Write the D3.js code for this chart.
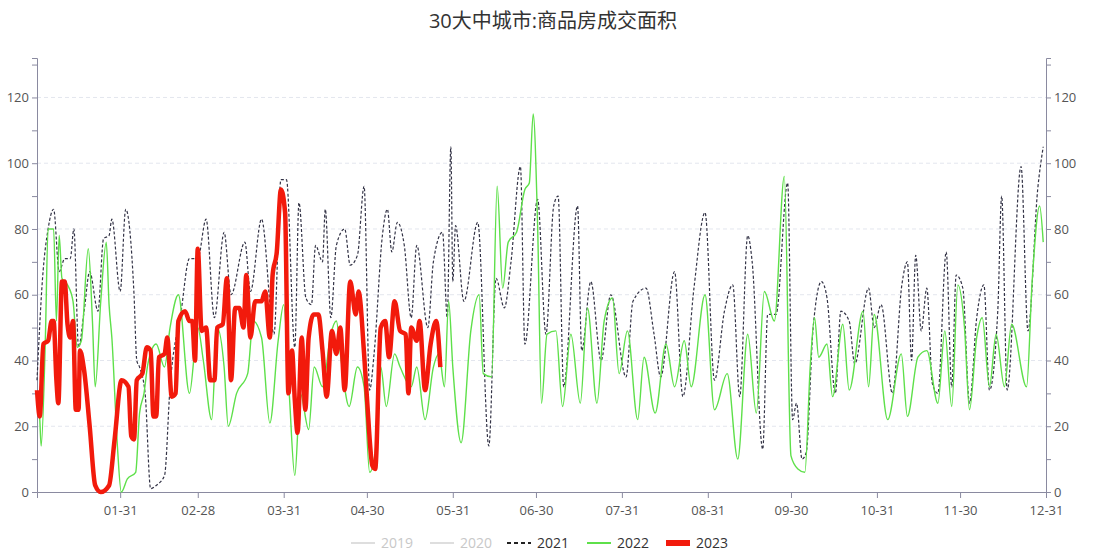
<!DOCTYPE html>
<html>
<head>
<meta charset="utf-8">
<script src="https://cdn.jsdelivr.net/npm/d3@7"></script>
<style>
  body { margin: 0; background: #fff; font-family: "Open Sans", "Noto Sans CJK SC", sans-serif; }
</style>
</head>
<body>
<script>
// [day of year, value]
var s2021 = [[1,34],[3,65],[5,80],[7,86],[9,67],[11,71],[13,71],[14.3,80],[16,44],[18,55],[20,67],[23,55],[25,77],[27,78],[28,83],[31,61],[33,86],[36,60],[37,40],[38,38],[40,30],[42,1],[44,2],[47,5],[49,32],[53,55],[56,71],[59,71],[62,83],[65,53],[68.5,79],[71,60],[76,76],[78,61],[82,83],[86.5,48],[89,95],[91,95],[94,44],[95.5,88],[98,59],[100,57],[101.5,75],[104,70],[105,86],[107,53],[109,75],[112,80],[114,69],[116.6,72],[119,93],[121,31],[122.6,42],[125.6,78],[127.4,86],[129,73],[131,82],[133.5,75],[136,53],[138,75],[142,50],[144,70],[147.3,79],[149,53],[150.3,105],[151,64],[152,81],[155,58],[160,82],[164,14],[166.6,65],[169.6,56],[172,70],[175.4,99],[177,45],[181.6,89],[184.6,48],[187.4,87],[189,90],[191,32],[196,87],[197.5,43],[200.8,64],[204.5,40],[208,60],[213.5,35],[216,58],[220.7,62],[223.6,48],[226,35],[231,67],[234,29],[238,62],[242,85],[245.4,34],[249,55],[252,63],[254.5,29],[257.4,78],[259,70],[262.8,13],[264.6,54],[267.6,54],[271.8,94],[273.6,22],[275,27],[277,10],[278.5,12],[281,50],[284,64],[286,59],[289,30],[291,55],[294,52],[296,39],[301,62],[303,50],[305.5,57],[309.6,30],[313,63],[315,70],[316.5,40],[318,72],[320,49],[322,62],[324,33],[326,30],[329,73],[331,32],[332.6,66],[335,62],[337.4,27],[340,53],[342.6,63],[344.6,31],[347.6,55],[349,90],[351,31],[356,99],[358.5,49],[362,92],[364,105]];

var s2022 = [[1,29],[2,22],[2.5,14],[4,46],[5,80],[7,80],[8,52],[9,78],[10,65],[12,63],[14,58],[15.5,44],[17,46],[19.5,74],[21,52],[22,32],[24,58],[26,76],[27,57],[28,47],[30,14],[31.4,0],[33.6,4],[36.6,6],[38,24],[39.6,30],[41,39],[44,45],[47,38],[49,50],[52,60],[56,30],[59,50],[61,40],[64,22],[66,50],[68.5,38],[70,20],[73,30],[77,36],[79,52],[82,47],[85,21],[88,46],[90,57],[92,30],[94,5],[96,30],[99,19],[101,38],[104,32],[107,48],[109,52],[110.6,41],[113.6,26],[116.6,38],[119,32],[121,6],[123,12],[125,38],[127,26],[130,42],[132,38],[136,32],[138,38],[141,22],[144,38],[146,42],[148,32],[149.5,58],[151,38],[154,15],[157.5,49],[160.5,60],[162,36],[165,35],[167,93],[169,62],[171,76],[174,79],[177,92],[178.6,94],[180,115],[181.6,81],[183,27],[185,48],[188.2,49],[190.6,26],[193.6,48],[197,27],[199.6,56],[203,27],[205.6,52],[208.6,59],[211,36],[214,49],[217.7,22],[220,41],[224,24],[227.9,45],[231,32],[234.5,46],[237,32],[242,60],[245.4,25],[250,36],[253.8,10],[257.4,48],[260.5,24],[263.4,61],[267,52],[270.6,96],[273,11],[275.5,7],[278,6],[280,39],[281.5,53],[283,41],[286,45],[288,29],[291.7,51],[294,31],[299,55],[301,32],[303,54],[307.9,22],[312.8,42],[315,23],[318.8,41],[322,43],[326,27],[328.5,49],[331,26],[333.2,63],[335.6,50],[337.4,25],[340,47],[342,53],[344.6,32],[347,48],[350,32],[352.6,51],[358,32],[360,64],[362.7,87],[364,76]];

var s2023 = [[1,31],[2,23],[3.3,45],[5,46],[6.3,52],[7,52],[8,34],[8.7,27],[10,64],[11,64],[12,51],[13,47],[14,52],[15,25],[16,25],[16.5,43],[18,37],[20,20],[22,2],[24,0],[27,2],[29,16],[31.5,34],[34,32],[35,17],[36,16],[37,34],[39,36],[40.6,44],[42,43],[43,23],[44,23],[45,41],[47,42],[48,47],[49.6,29],[51,30],[52,52],[54.4,55],[56,52],[57,52],[58,40],[59,74],[60.4,49],[62,50],[63.5,34],[65,34],[66,50],[68,51],[69.5,65],[71,34],[72.5,56],[74,56],[75.5,50],[76.5,66],[78,47],[79.7,58],[82,58],[83.3,61],[85,47],[86,66],[87.5,73],[89,92],[90.5,85],[91.7,30],[93,43],[94,28],[95,18],[96.5,47],[97.8,25],[99,47],[100.8,54],[102.5,54],[104,43],[105.5,29],[107.4,49],[109,42],[110.4,50],[112,31],[114,64],[116,54],[117,61],[119,42],[120,29],[122,8],[123,7],[125,50],[126.6,52],[128,41],[130,58],[132,49],[134,48],[135,30],[136,50],[138,46],[139,52],[141,31],[143,45],[145,52],[146.5,38]];

var monthEnds = [31, 59, 90, 120, 151, 181, 212, 243, 273, 304, 334, 365];
var monthLabels = ["01-31", "02-28", "03-31", "04-30", "05-31", "06-30", "07-31", "08-31", "09-30", "10-31", "11-30", "12-31"];
var yTicks = [0, 20, 40, 60, 80, 100, 120];

var W = 1106, H = 556;
var svg = d3.select("body").append("svg").attr("width", W).attr("height", H);

var x = d3.scaleLinear().domain([1, 365]).range([37, 1046]);
var y = d3.scaleLinear().domain([0, 132]).range([492, 58]);

// title
svg.append("text").attr("x", W / 2).attr("y", 28).attr("text-anchor", "middle")
   .attr("font-size", "20px").attr("fill", "#333").text("30大中城市:商品房成交面积");

// grid
svg.selectAll("line.grid").data(yTicks.slice(1)).enter().append("line")
   .attr("x1", 37).attr("x2", 1046).attr("y1", d => y(d)).attr("y2", d => y(d))
   .attr("stroke", "#e3e6ee").attr("stroke-dasharray", "4,3");

var minor = d3.range(0, 131, 10);
function yAxis(gen, xpos) {
  var g = svg.append("g").attr("transform", "translate(" + xpos + ",0)")
     .call(gen(y).tickValues(minor).tickSize(5).tickFormat(d => d % 20 === 0 ? d : ""));
  g.select(".domain").attr("stroke", "#8a8aa0");
  g.selectAll(".tick line").attr("stroke", "#8a8aa0");
  g.selectAll("text").attr("fill", "#555").attr("font-size", "13px").attr("font-family", "Open Sans");
}
yAxis(d3.axisLeft, 37);
yAxis(d3.axisRight, 1046);

var xa = svg.append("g").attr("transform", "translate(0,492)")
   .call(d3.axisBottom(x).tickValues(monthEnds).tickSize(6).tickFormat((d, i) => monthLabels[i]));
xa.select(".domain").attr("stroke", "#8a8aa0");
xa.selectAll(".tick line").attr("stroke", "#8a8aa0");
xa.selectAll("text").attr("fill", "#555").attr("font-size", "13px").attr("font-family", "Open Sans").attr("dy", "1.1em");

var line = d3.line().x(d => x(d[0])).y(d => y(d[1])).curve(d3.curveMonotoneX);

svg.append("path").datum(s2021).attr("d", line).attr("fill", "none")
   .attr("stroke", "#333346").attr("stroke-width", 1.2).attr("stroke-dasharray", "3,2");
svg.append("path").datum(s2022).attr("d", line).attr("fill", "none")
   .attr("stroke", "#5ee04a").attr("stroke-width", 1.4);
svg.append("path").datum(s2023).attr("d", line).attr("fill", "none")
   .attr("stroke", "#f21a0c").attr("stroke-width", 4.5).attr("stroke-linejoin", "round");

// legend
var legend = [
  {name: "2019", color: "#c8c8c8", dash: null, w: 1.2, text: "#c8c8c8"},
  {name: "2020", color: "#c8c8c8", dash: null, w: 1.2, text: "#c8c8c8"},
  {name: "2021", color: "#222", dash: "4,3", w: 2, text: "#333"},
  {name: "2022", color: "#5ee04a", dash: null, w: 2, text: "#333"},
  {name: "2023", color: "#f21a0c", dash: null, w: 6, text: "#333"}
];
var lx = [351, 430, 507, 587, 666];
var lg = svg.selectAll("g.leg").data(legend).enter().append("g")
   .attr("transform", (d, i) => "translate(" + lx[i] + ",543)");
lg.append("line").attr("x1", 0).attr("x2", 24).attr("stroke", d => d.color)
   .attr("stroke-width", d => d.w).attr("stroke-dasharray", d => d.dash);
lg.append("text").attr("x", 30).attr("dy", "0.35em").attr("font-size", "14px")
   .attr("fill", d => d.text).text(d => d.name);
</script>
</body>
</html>
